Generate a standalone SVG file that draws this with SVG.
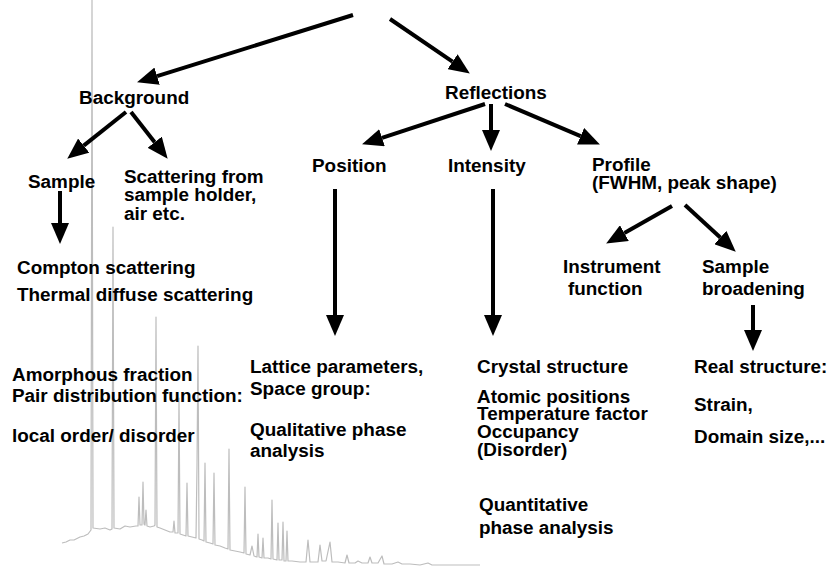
<svg xmlns="http://www.w3.org/2000/svg" width="831" height="566" viewBox="0 0 831 566">
<style>
text{font-family:"Liberation Sans",Arial,sans-serif;font-weight:bold;font-size:18.9px;fill:#000}
.c line{stroke:#000;stroke-width:4;marker-end:url(#ah)}
.pat{fill:none;stroke:#bdbdbd;stroke-width:1.2;stroke-linejoin:round}
</style>
<defs>
<marker id="ah" markerUnits="userSpaceOnUse" markerWidth="21" markerHeight="18" refX="0" refY="9" orient="auto">
<path d="M0,0 L21,9 L0,18 z" fill="#000"/>
</marker>
</defs>
<rect width="831" height="566" fill="#fff"/>
<g id="pattern">
<path class="pat" d="M62,543 L66,542 L70,540 L74,540 L80,537 L84,536 L88,534 L91,530 L92,0 L93,528 L100,529 L105,528 L110,530 L112,529 L113,227 L114,528 L120,529 L125,526 L130,527 L136,526 L138,526 L139,497 L140,525 L142,525 L143,482 L144,524 L145,525 L146,510 L147,526 L150,527 L154,526 L155,525 L156,317 L157,527 L160,528 L165,530 L170,532 L173,532 L174,521 L175,533 L178,533 L179,398 L180,534 L183,535 L186,536 L187,483 L188,536 L192,537 L196,538 L197,466 L198,346 L199,539 L202,540 L204,541 L205,463 L206,542 L210,543 L213,544 L214,473 L215,545 L220,546 L225,548 L228,549 L229,449 L230,550 L235,551 L240,552 L244,553 L245,487 L246,554 L250,555 L252,546 L254,556 L257,557 L258,534 L259,557 L262,558 L263,538 L264,558 L268,558 L271,559 L272,500 L273,559 L277,560 L278,523 L279,560 L282,560 L283,522 L284,561 L286,561 L287,531 L288,561 L292,561 L300,562 L306,562 L308,540 L310,562 L315,562 L318,562 L320,545 L322,561 L326,561 L330,542 L332,562 L338,562 L345,563 L347,555 L349,563 L355,563 L358,561 L362,563 L368,563 L370,557 L372,563 L378,563 L382,556 L384,564 L392,564 L398,562 L402,564 L410,564 L420,565 L428,563 L432,565 L440,565 L455,565 L465,565 L480,565"/>
</g>
<g class="c" id="connectors">
<line x1="353" y1="15" x2="157.1" y2="76.1"/>
<line x1="390" y1="19" x2="452.5" y2="61.7"/>
<line x1="126" y1="112" x2="83.7" y2="145.6"/>
<line x1="131" y1="112" x2="154.7" y2="142.2"/>
<line x1="485" y1="104" x2="382" y2="137.8"/>
<line x1="491" y1="104" x2="491" y2="130"/>
<line x1="505" y1="104" x2="580.6" y2="136.2"/>
<line x1="60" y1="191" x2="60" y2="223"/>
<line x1="335" y1="189" x2="335" y2="315"/>
<line x1="493" y1="189" x2="493" y2="315"/>
<line x1="672" y1="206" x2="624.4" y2="233.1"/>
<line x1="685" y1="205" x2="720.3" y2="237.5"/>
<line x1="753" y1="305" x2="753" y2="330"/>
</g>
<g id="background"><text x="79" y="104">Background</text></g>
<g id="reflections"><text x="445" y="99">Reflections</text></g>
<g id="sample"><text x="28" y="188">Sample</text></g>
<g id="scattering"><text x="124" y="183">Scattering from</text><text x="124" y="201">sample holder,</text><text x="124" y="220">air etc.</text></g>
<g id="position"><text x="312" y="172">Position</text></g>
<g id="intensity"><text x="448" y="172">Intensity</text></g>
<g id="profile"><text x="592" y="171">Profile</text><text x="592" y="189">(FWHM, peak shape)</text></g>
<g id="compton"><text x="17" y="274">Compton scattering</text><text x="17" y="301">Thermal diffuse scattering</text></g>
<g id="amorphous"><text x="12" y="381">Amorphous fraction</text><text x="12" y="402">Pair distribution function:</text><text x="12" y="442">local order/ disorder</text></g>
<g id="lattice"><text x="250" y="373">Lattice parameters,</text><text x="250" y="395">Space group:</text><text x="250" y="436">Qualitative phase</text><text x="250" y="457"> analysis</text></g>
<g id="crystal"><text x="477" y="373">Crystal structure</text><text x="477" y="403">Atomic positions</text><text x="477" y="420">Temperature factor</text><text x="477" y="438">Occupancy</text><text x="477" y="456">(Disorder)</text></g>
<g id="quantitative"><text x="479" y="511">Quantitative</text><text x="479" y="534">phase analysis</text></g>
<g id="instrument"><text x="563" y="273">Instrument</text><text x="568" y="295">function</text></g>
<g id="broadening"><text x="702" y="273">Sample</text><text x="702" y="295">broadening</text></g>
<g id="real"><text x="694" y="373">Real structure:</text><text x="694" y="411">Strain,</text><text x="694" y="443">Domain size,...</text></g>
</svg>
